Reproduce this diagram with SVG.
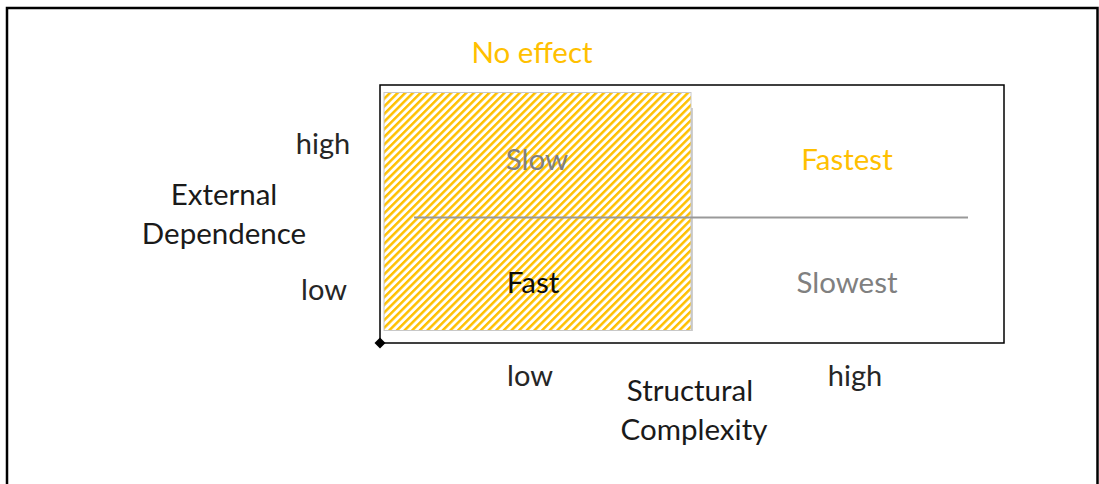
<svg xmlns="http://www.w3.org/2000/svg" width="1099" height="484" viewBox="0 0 1099 484">
  <style>
    text { font-family: Lato, "Open Sans", "Liberation Sans", sans-serif; text-anchor: middle; }
    .axis { font-size: 29.5px; fill: #1a1a1a; }
    .tick { font-size: 29px; fill: #262626; }
    .cell { font-size: 29.5px; }
    .gold { fill: #FFC000; }
    .grey { fill: #808080; }
    .dark { fill: #0d0d0d; }
  </style>
  <defs>
    <pattern id="hatch" patternUnits="userSpaceOnUse" width="5.4" height="5.4" patternTransform="rotate(45)">
      <rect width="5.4" height="5.4" fill="#ffffff"/>
      <rect width="2.5" height="5.4" fill="#FFC000"/>
    </pattern>
  </defs>

  <rect width="1099" height="484" fill="#ffffff"/>

  <!-- outer frame -->
  <path d="M7,484 V8 H1097.5 V484" fill="none" stroke="#000" stroke-width="2.5"/>

  <!-- quadrant area -->
  <g id="matrix">
    <rect x="380" y="85" width="624" height="258" fill="#fff" stroke="#000" stroke-width="1.5"/>
    <rect id="no-effect-zone" x="384" y="92.5" width="307" height="238" fill="url(#hatch)" stroke="#c8c8c8" stroke-width="1"/>
  </g>

  <!-- dividers and origin marker -->
  <g id="connectors">
    <line x1="692" y1="108" x2="692" y2="331" stroke="#bfbfbf" stroke-width="1.5"/>
    <line x1="414" y1="217.5" x2="968" y2="217.5" stroke="#999" stroke-width="2"/>
    <path d="M380,337.5 L385.5,343 L380,348.5 L374.5,343 Z" fill="#000"/>
  </g>

  <g id="label-no-effect"><text class="cell gold" x="532" y="63">No effect</text></g>

  <g id="y-axis">
    <text class="axis" x="224" y="205">External</text>
    <text class="axis" x="224" y="244">Dependence</text>
    <text class="tick" x="323" y="154">high</text>
    <text class="tick" x="324" y="300">low</text>
  </g>

  <g id="x-axis">
    <text class="tick" x="530" y="386">low</text>
    <text class="tick" x="855" y="386">high</text>
    <text class="axis" x="690" y="401">Structural</text>
    <text class="axis" x="694" y="440">Complexity</text>
  </g>

  <g id="cell-slow"><text class="cell grey" x="537" y="170">Slow</text></g>
  <g id="cell-fastest"><text class="cell gold" x="847" y="170">Fastest</text></g>
  <g id="cell-fast"><text class="cell dark" x="533" y="293">Fast</text></g>
  <g id="cell-slowest"><text class="cell grey" x="847" y="293">Slowest</text></g>
</svg>
